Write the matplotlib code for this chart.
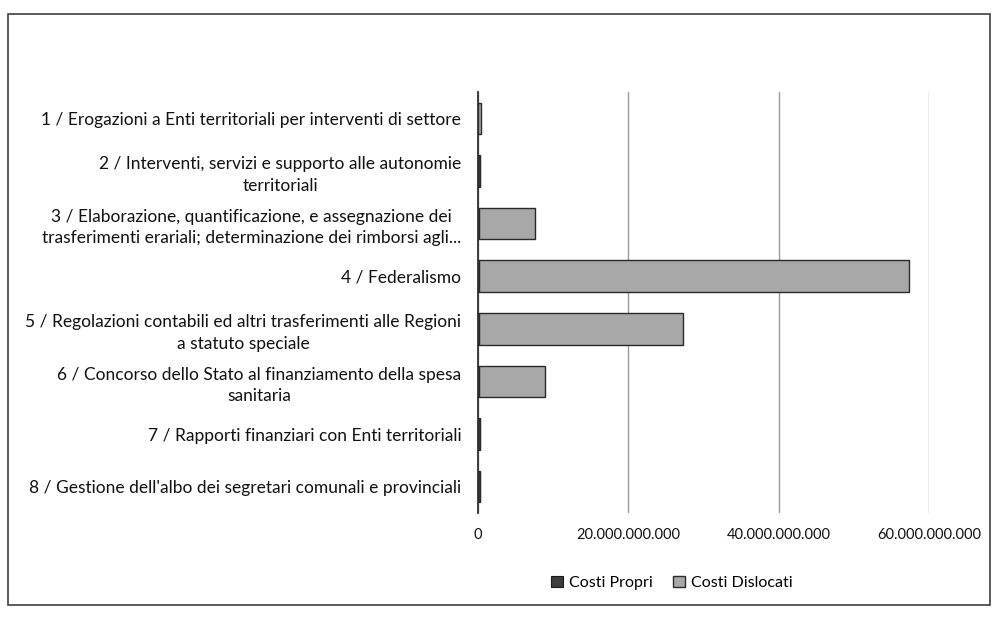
import matplotlib
matplotlib.use("Agg")
import matplotlib.pyplot as plt
from matplotlib.patches import Rectangle
from matplotlib.ticker import FuncFormatter

plt.rcParams['font.family'] = ['Lato', 'DejaVu Sans']

categories = [
    "1 / Erogazioni a Enti territoriali per interventi di settore",
    "2 / Interventi, servizi e supporto alle autonomie\nterritoriali",
    "3 / Elaborazione, quantificazione, e assegnazione dei\ntrasferimenti erariali; determinazione dei rimborsi agli...",
    "4 / Federalismo",
    "5 / Regolazioni contabili ed altri trasferimenti alle Regioni\na statuto speciale",
    "6 / Concorso dello Stato al finanziamento della spesa\nsanitaria",
    "7 / Rapporti finanziari con Enti territoriali",
    "8 / Gestione dell'albo dei segretari comunali e provinciali",
]
costi_propri = [0.05e9, 0.25e9, 0.15e9, 0.1e9, 0.1e9, 0.1e9, 0.25e9, 0.3e9]
costi_dislocati = [0.35e9, 0.0, 7.4e9, 57.2e9, 27.2e9, 8.8e9, 0.0, 0.0]
xticks = [0, 20e9, 40e9, 60e9]
series_names = ["Costi Propri", "Costi Dislocati"]

fig = plt.figure(figsize=(9.92, 6.33), dpi=100)
fig.patches.append(Rectangle((8/992, 1-605/633), (990-8)/992, (605-14)/633,
                             transform=fig.transFigure, fill=False,
                             edgecolor='#404040', linewidth=1.2))

ax = fig.add_axes([478/992, 1-513/633, (929-478)/992, (513-92)/633])
y = list(range(len(categories)))
ax.barh(y, costi_propri, height=0.6, color='#3c3c3c', edgecolor='#1a1a1a',
        linewidth=0.8, label=series_names[0], zorder=3)
ax.barh(y, costi_dislocati, left=costi_propri, height=0.6, color='#a8a8a8',
        edgecolor='#2a2a2a', linewidth=1.0, label=series_names[1], zorder=3)

ax.set_ylim(len(categories)-0.5, -0.5)
ax.set_xlim(0, 60e9)
ax.set_yticks(y)
ax.set_yticklabels(categories, fontsize=12.5, color='#111111')
for lab in ax.get_yticklabels():
    lab.set_multialignment('center')
    lab.set_linespacing(1.4)
ax.set_xticks(xticks)
ax.xaxis.set_major_formatter(FuncFormatter(lambda v, p: "0" if v == 0 else f"{int(v):,}".replace(",", ".")))
ax.tick_params(axis='x', labelsize=10.5, colors='#111111', length=0, pad=11)
ax.tick_params(axis='y', length=0, pad=12)
ax.grid(axis='x', color='#9a9a9a', linewidth=1.0, zorder=0)
for s in ['top', 'right', 'bottom']:
    ax.spines[s].set_visible(False)
ax.spines['left'].set_color('#303030')
ax.spines['left'].set_linewidth(1.3)
ax.spines['left'].set_zorder(4)

leg = fig.legend(loc='center', bbox_to_anchor=(672/992, 1-583/633), ncol=2,
                 frameon=False, fontsize=11.5, handlelength=0.7, handleheight=0.7,
                 handletextpad=0.4, columnspacing=1.3)

fig.savefig("out.png", dpi=100)
